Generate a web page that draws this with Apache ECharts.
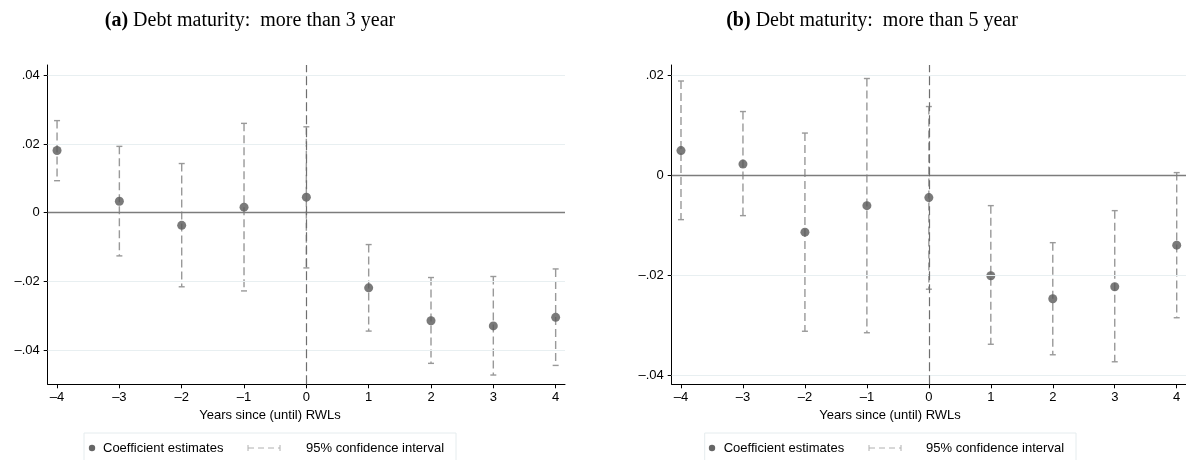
<!DOCTYPE html>
<html>
<head>
<meta charset="utf-8">
<script src="https://cdn.jsdelivr.net/npm/echarts@6/dist/echarts.min.js"></script>
<style>html,body{margin:0;padding:0;background:#fff;}#c{width:1186px;height:460px;}</style>
</head>
<body>
<div id="c"></div>
<script>
const years = [-4, -3, -2, -1, 0, 1, 2, 3, 4];
const coefA = [0.0181, 0.0033, -0.0037, 0.0016, 0.0045, -0.0219, -0.0315, -0.0330, -0.0305];
const lowA  = [0.0093, -0.0126, -0.0216, -0.0228, -0.0161, -0.0345, -0.0439, -0.0473, -0.0445];
const highA = [0.0268, 0.0193, 0.0143, 0.0260, 0.0250, -0.0093, -0.0189, -0.0186, -0.0164];
const coefB = [0.0049, 0.0022, -0.0114, -0.0061, -0.0045, -0.0201, -0.0247, -0.0223, -0.0140];
const lowB  = [-0.0089, -0.0081, -0.0312, -0.0315, -0.0228, -0.0338, -0.0359, -0.0373, -0.0285];
const highB = [0.0188, 0.0127, 0.0084, 0.0193, 0.0137, -0.0061, -0.0135, -0.0071, 0.0005];
const yTicksA = [-0.04, -0.02, 0, 0.02, 0.04];
const yTicksB = [-0.04, -0.02, 0, 0.02];
const titleA = 'Debt maturity:  more than 3 year';
const titleB = 'Debt maturity:  more than 5 year';
const xTitle = 'Years since (until) RWLs';
const legendCoef = 'Coefficient estimates';
const legendCI = '95% confidence interval';

const chart = echarts.init(document.getElementById('c'), null, {renderer: 'canvas'});

const DASH = '\u2013';
function fmtY(v) {
  if (Math.abs(v) < 1e-9) return '0';
  let s = Math.abs(v).toFixed(2).replace(/^0/, '');
  return (v < 0 ? DASH : '') + s;
}
function fmtX(v) {
  return (v < 0 ? DASH : '') + Math.abs(v);
}

function xAxisCfg(idx) {
  return {
    type: 'value', gridIndex: idx, min: -4.15, max: 4.15,
    axisLine: {show: true, onZero: false, lineStyle: {color: '#000', width: 1}},
    axisTick: {show: true, length: 4, customValues: years, lineStyle: {color: '#000'}},
    axisLabel: {customValues: years, formatter: fmtX, color: '#000', fontSize: 13, fontFamily: 'Liberation Sans', margin: 7},
    splitLine: {show: false}
  };
}
function yAxisCfg(idx, min, max, ticks) {
  return {
    type: 'value', gridIndex: idx, min: min, max: max,
    axisLine: {show: true, onZero: false, lineStyle: {color: '#000', width: 1}},
    axisTick: {show: true, length: 4, customValues: ticks, lineStyle: {color: '#000'}},
    axisLabel: {customValues: ticks, formatter: fmtY, color: '#000', fontSize: 13, fontFamily: 'Liberation Sans', margin: 8},
    splitLine: {show: false}
  };
}

function ciRender(params, api) {
  const x = api.value(0), lo = api.value(1), hi = api.value(2);
  const p1 = api.coord([x, hi]);
  const p2 = api.coord([x, lo]);
  const cw = 3;
  const st = {stroke: '#999999', lineWidth: 1.4};
  return {
    type: 'group',
    children: [
      {type: 'line', shape: {x1: p1[0], y1: p1[1], x2: p2[0], y2: p2[1]}, style: Object.assign({lineDash: [8, 4]}, st)},
      {type: 'line', shape: {x1: p1[0] - cw, y1: p1[1], x2: p1[0] + cw, y2: p1[1]}, style: st},
      {type: 'line', shape: {x1: p2[0] - cw, y1: p2[1], x2: p2[0] + cw, y2: p2[1]}, style: st}
    ]
  };
}

function panelSeries(idx, coef, low, high, ticks) {
  const gridData = ticks.filter(v => v !== 0).map(v => ({yAxis: v}));
  return [
    {
      type: 'line', xAxisIndex: idx, yAxisIndex: idx, data: [], silent: true, z: 1,
      markLine: {
        silent: true, symbol: 'none', label: {show: false}, animation: false,
        lineStyle: {color: '#e8eff1', width: 1.2, type: 'solid'},
        data: gridData
      }
    },
    {
      type: 'line', xAxisIndex: idx, yAxisIndex: idx, data: [], silent: true, z: 2,
      markLine: {
        silent: true, symbol: 'none', label: {show: false}, animation: false,
        data: [
          {yAxis: 0, lineStyle: {color: '#7c7c7c', width: 1.3, type: 'solid'}},
          {xAxis: 0, lineStyle: {color: '#6e6e6e', width: 1.2, type: [9, 4]}}
        ]
      }
    },
    {
      type: 'custom', xAxisIndex: idx, yAxisIndex: idx, z: 3,
      renderItem: ciRender,
      encode: {x: 0, y: [1, 2]},
      data: years.map((y, i) => [y, low[i], high[i]])
    },
    {
      type: 'scatter', xAxisIndex: idx, yAxisIndex: idx, z: 4,
      symbol: 'circle', symbolSize: 9,
      itemStyle: {color: '#595959'},
      data: years.map((y, i) => [y, coef[i]])
    }
  ];
}

function legendGraphics(boxL, boxR, dotX, txt1X, lineX1, lineX2, txt2X) {
  const y = 448;
  const capH = 3;
  const st = {stroke: '#b0b0b0', lineWidth: 1};
  return [
    {type: 'rect', shape: {x: boxL, y: 433, width: boxR - boxL, height: 40}, style: {fill: '#fff', stroke: '#e5ecee', lineWidth: 1}},
    {type: 'circle', shape: {cx: dotX, cy: y, r: 3.2}, style: {fill: '#666'}},
    {type: 'text', x: txt1X, y: y, style: {text: legendCoef, fill: '#000', font: '13px "Liberation Sans"', textVerticalAlign: 'middle'}},
    {type: 'line', shape: {x1: lineX1, y1: y, x2: lineX2, y2: y}, style: Object.assign({lineDash: [6, 4]}, st)},
    {type: 'line', shape: {x1: lineX1, y1: y - capH, x2: lineX1, y2: y + capH}, style: st},
    {type: 'line', shape: {x1: lineX2, y1: y - capH, x2: lineX2, y2: y + capH}, style: st},
    {type: 'text', x: txt2X, y: y, style: {text: legendCI, fill: '#000', font: '13px "Liberation Sans"', textVerticalAlign: 'middle'}}
  ];
}

function titleGraphic(cx, letter, txt) {
  return {
    type: 'text', x: cx, y: 21,
    style: {
      text: '{b|(' + letter + ')} ' + txt,
      rich: {b: {fontWeight: 'bold', fontFamily: 'Liberation Serif', fontSize: 20, fill: '#000'}},
      font: '20px "Liberation Serif"', fill: '#000',
      textAlign: 'center', textVerticalAlign: 'middle'
    }
  };
}

const option = {
  animation: false,
  backgroundColor: '#fff',
  grid: [
    {left: 47.7, right: 621, top: 65, bottom: 75.7, containLabel: false},
    {left: 671.7, right: -3, top: 65, bottom: 75.7, containLabel: false}
  ],
  xAxis: [xAxisCfg(0), xAxisCfg(1)],
  yAxis: [yAxisCfg(0, -0.05, 0.043, yTicksA), yAxisCfg(1, -0.0418, 0.022, yTicksB)],
  series: [].concat(
    panelSeries(0, coefA, lowA, highA, yTicksA),
    panelSeries(1, coefB, lowB, highB, yTicksB)
  ),
  graphic: [].concat(
    [titleGraphic(250, 'a', titleA), titleGraphic(872, 'b', titleB)],
    [
      {type: 'text', x: 270, y: 415, style: {text: xTitle, fill: '#000', font: '13px "Liberation Sans"', textAlign: 'center', textVerticalAlign: 'middle'}},
      {type: 'text', x: 890, y: 415, style: {text: xTitle, fill: '#000', font: '13px "Liberation Sans"', textAlign: 'center', textVerticalAlign: 'middle'}}
    ],
    legendGraphics(84, 456, 92, 103, 248, 280, 306),
    legendGraphics(704.7, 1076, 712, 723.7, 869, 901, 926)
  )
};
chart.setOption(option);
</script>
</body>
</html>
